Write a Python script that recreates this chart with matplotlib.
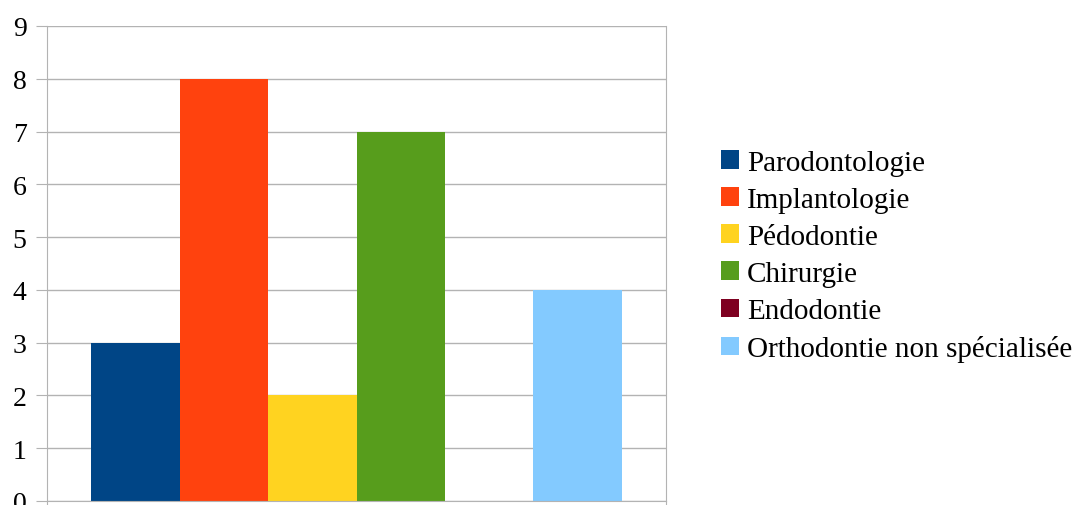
import numpy as np
import matplotlib.pyplot as plt
from matplotlib.patches import Patch

# données
series = ['Parodontologie', 'Implantologie', 'Pédodontie', 'Chirurgie',
          'Endodontie', 'Orthodontie non spécialisée']
values = [3, 8, 2, 7, 0, 4]
colors = ['#004586', '#ff420e', '#ffd320', '#579d1c', '#7e0021', '#83caff']

plt.rcParams['font.family'] = ['Liberation Serif', 'DejaVu Serif']

fig = plt.figure(figsize=(10.77, 5.06), dpi=100)
ax = fig.add_axes([47 / 1077, 4 / 506, 619 / 1077, 475 / 506])

w = 1.0
n = len(values)
x = (np.arange(n) - (n - 1) / 2) * w
ax.bar(x, values, width=w, color=colors, zorder=2)

ax.set_xlim(-3.5 * w, 3.5 * w)
ax.set_ylim(0, 9)
ax.set_yticks(range(0, 10))
ax.set_xticks([-3.5 * w, 3.5 * w])
ax.set_xticklabels([])
ax.yaxis.grid(True, color='#b3b3b3', linewidth=1, zorder=0)
ax.tick_params(axis='y', length=8.25, color='#b3b3b3', labelsize=20, pad=6.5)
ax.tick_params(axis='x', length=8.25, color='#b3b3b3')
for s in ['left', 'bottom', 'right']:
    ax.spines[s].set_color('#b3b3b3')
ax.spines['top'].set_visible(False)

handles = [Patch(facecolor=c, edgecolor='none') for c in colors]
fig.legend(handles, series, loc='center left', bbox_to_anchor=(721 / 1077, 1 - 257 / 506),
           frameon=False, fontsize=21, handlelength=0.6, handleheight=0.6,
           handletextpad=0.3, labelspacing=0.38, borderpad=0, borderaxespad=0)

fig.savefig('out.png', dpi=100)
